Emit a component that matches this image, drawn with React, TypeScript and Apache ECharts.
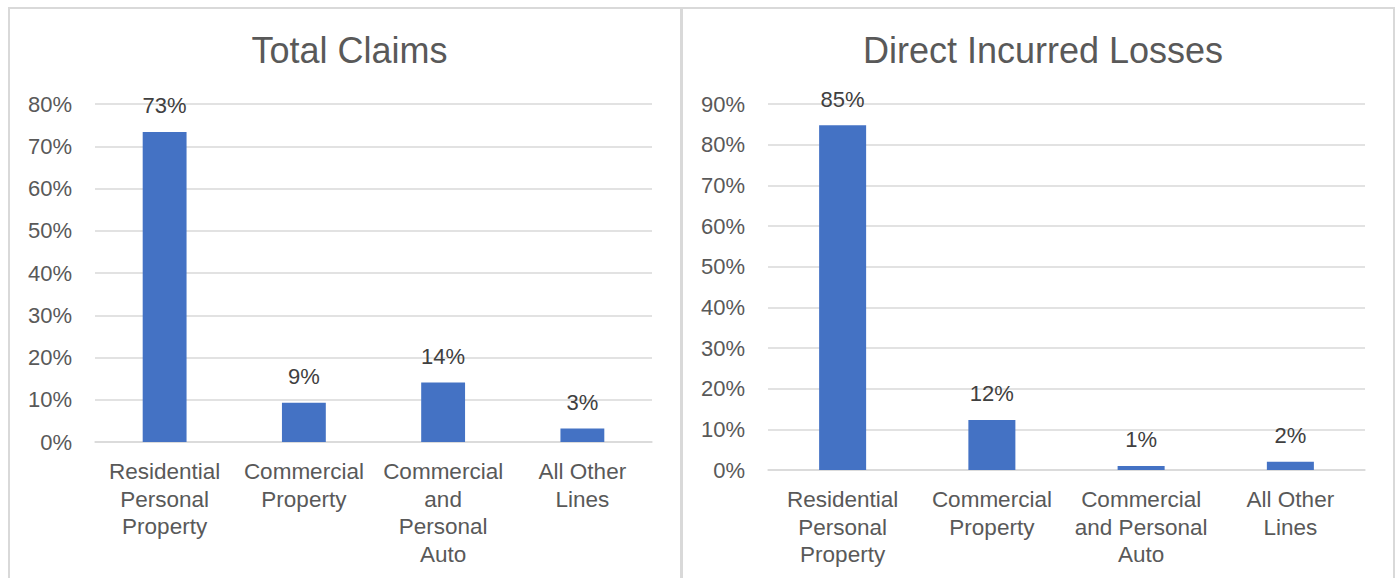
import React, { useEffect, useRef } from "react";
import * as echarts from "echarts";

const categories = [
  "Residential Personal Property",
  "Commercial Property",
  "Commercial and Personal Auto",
  "All Other Lines",
];
const claimsAxisLabels = [
  "Residential\nPersonal\nProperty",
  "Commercial\nProperty",
  "Commercial\nand\nPersonal\nAuto",
  "All Other\nLines",
];
const lossesAxisLabels = [
  "Residential\nPersonal\nProperty",
  "Commercial\nProperty",
  "Commercial\nand Personal\nAuto",
  "All Other\nLines",
];
const totalClaims = [73.4, 9.3, 14.1, 3.2];
const directIncurredLosses = [84.8, 12.3, 1.0, 2.0];

const FONT = "'Liberation Sans', Arial, sans-serif";
const AXIS_COLOR = "#595959";
const GRID_COLOR = "#d9d9d9";
const BAR_COLOR = "#4472C4";

export default function App() {
  const ref = useRef<HTMLDivElement>(null);

  useEffect(() => {
    if (!ref.current) return;
    const chart = echarts.init(ref.current, undefined, { renderer: "svg" });

    const xAxisCommon = (labels: string[], gridIndex: number) => ({
      type: "category",
      gridIndex,
      data: categories,
      axisTick: { show: false },
      axisLine: { show: true, lineStyle: { color: GRID_COLOR, width: 1.5 } },
      axisLabel: {
        interval: 0,
        color: AXIS_COLOR,
        fontSize: 22.5,
        lineHeight: 27.5,
        fontFamily: FONT,
        margin: 16,
        formatter: (_v: string, i: number) => labels[i],
      },
    });

    const yAxisCommon = (max: number, gridIndex: number) => ({
      type: "value",
      gridIndex,
      min: 0,
      max,
      interval: 10,
      axisLine: { show: false },
      axisTick: { show: false },
      splitLine: { lineStyle: { color: GRID_COLOR, width: 1.5 } },
      axisLabel: {
        color: AXIS_COLOR,
        fontSize: 22,
        fontFamily: FONT,
        margin: 23,
        formatter: (v: number) => v + "%",
      },
    });

    const seriesCommon = (data: number[], idx: number) => ({
      type: "bar",
      xAxisIndex: idx,
      yAxisIndex: idx,
      data,
      barWidth: "31.5%",
      itemStyle: { color: BAR_COLOR },
      label: {
        show: true,
        position: "top",
        distance: 15,
        color: "#404040",
        fontSize: 22,
        fontFamily: FONT,
        formatter: (p: any) => Math.round(p.value) + "%",
      },
    });

    chart.setOption({
      animation: false,
      backgroundColor: "#ffffff",
      title: [
        {
          text: "Total Claims",
          left: 344.5,
          top: 27,
          textAlign: "center",
          textStyle: { color: AXIS_COLOR, fontSize: 36, fontWeight: "normal", fontFamily: FONT },
        },
        {
          text: "Direct Incurred Losses",
          left: 1038,
          top: 27,
          textAlign: "center",
          textStyle: { color: AXIS_COLOR, fontSize: 36, fontWeight: "normal", fontFamily: FONT },
        },
      ],
      grid: [
        { left: 95, top: 104, width: 557, height: 338 },
        { left: 768, top: 104, width: 597, height: 366 },
      ],
      xAxis: [xAxisCommon(claimsAxisLabels, 0), xAxisCommon(lossesAxisLabels, 1)],
      yAxis: [yAxisCommon(80, 0), yAxisCommon(90, 1)],
      series: [seriesCommon(totalClaims, 0), seriesCommon(directIncurredLosses, 1)],
      graphic: [
        {
          type: "rect",
          shape: { x: 9, y: 8, width: 672, height: 620 },
          style: { fill: "none", stroke: GRID_COLOR, lineWidth: 2 },
          silent: true,
        },
        {
          type: "rect",
          shape: { x: 682, y: 8, width: 712, height: 620 },
          style: { fill: "none", stroke: GRID_COLOR, lineWidth: 2 },
          silent: true,
        },
      ],
    });

    return () => chart.dispose();
  }, []);

  return (
    <div
      ref={ref}
      style={{ position: "fixed", left: 0, top: 0, width: 1398, height: 578 }}
    />
  );
}
